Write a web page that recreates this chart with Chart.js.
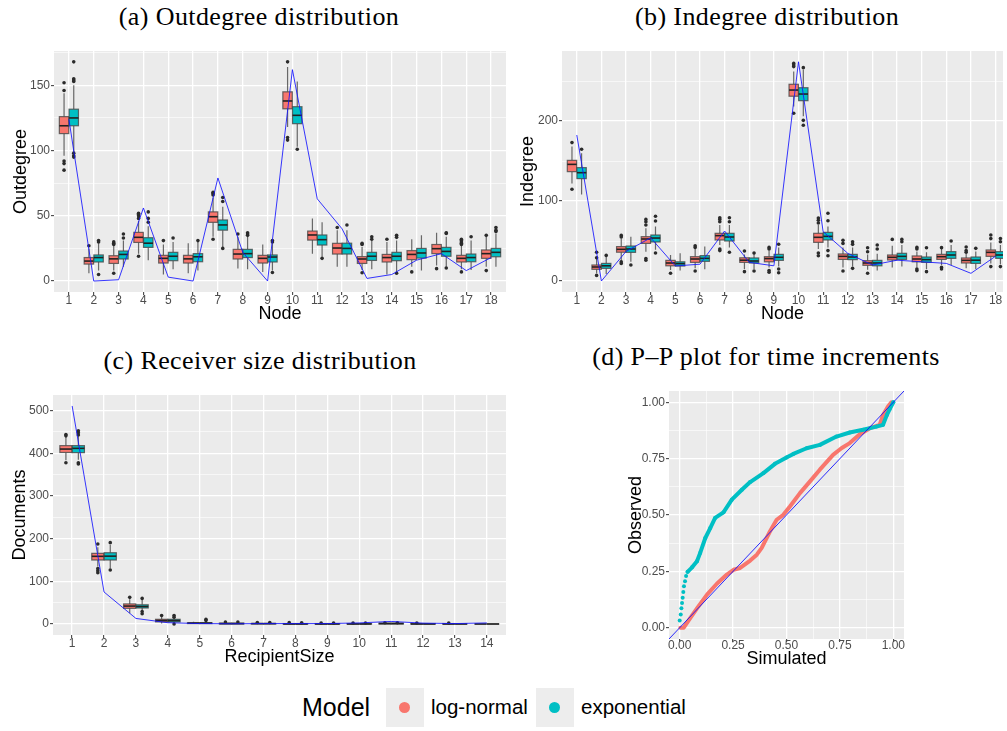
<!DOCTYPE html>
<html>
<head>
<meta charset="utf-8">
<script src="https://cdn.jsdelivr.net/npm/chart.js@4.4.1/dist/chart.umd.min.js"></script>
<style>
  body { margin: 0; width: 1007px; height: 731px; background: #fff; overflow: hidden; position: relative; font-family: 'Liberation Sans', Arial, sans-serif; }
  canvas { position: absolute; }
  .title { position: absolute; width: 460px; height: 30px; line-height: 30px; text-align: center; white-space: nowrap;
           font-family: 'Liberation Serif', 'DejaVu Serif', serif; font-size: 26px; letter-spacing: 0.4px; color: #000; }
  .legend-text { position: absolute; height: 30px; line-height: 30px; white-space: nowrap; color: #000; }
  .key { position: absolute; width: 38px; height: 39px; background: #EDEDED; }
  .key span { position: absolute; left: 13px; top: 14px; width: 11px; height: 11px; border-radius: 50%; }
</style>
</head>
<body>
<div class="title" style="left:29px; top:2px;">(a) Outdegree distribution</div>
<div class="title" style="left:537px; top:2px;">(b) Indegree distribution</div>
<div class="title" style="left:30px; top:346px;">(c) Receiver size distribution</div>
<div class="title" style="left:536px; top:342px;">(d) P–P plot for time increments</div>

<canvas id="outdeg" width="510" height="290" style="left:0; top:40px;"></canvas>
<canvas id="indeg" width="507" height="290" style="left:500px; top:40px;"></canvas>
<canvas id="receivers" width="510" height="290" style="left:0; top:380px;"></canvas>
<canvas id="pp" width="300" height="290" style="left:610px; top:380px;"></canvas>

<div class="legend-text" style="left:302px; top:692px; font-size:25px;">Model</div>
<div class="key" style="left:386px; top:688px;"><span style="background:#F8766D;"></span></div>
<div class="legend-text" style="left:431px; top:692px; font-size:20.5px;">log-normal</div>
<div class="key" style="left:536px; top:688px;"><span style="background:#00BFC4;"></span></div>
<div class="legend-text" style="left:581px; top:692px; font-size:20.5px;">exponential</div>

<script>
var nodes = [1, 2, 3, 4, 5, 6, 7, 8, 9, 10, 11, 12, 13, 14, 15, 16, 17, 18];
var recipientSizes = [1, 2, 3, 4, 5, 6, 7, 8, 9, 10, 11, 12, 13, 14];

// box stats per category: [lower whisker, Q1, median, Q3, upper whisker]
var outdegLogNormal = [
  [96, 113, 119, 126, 144], [6, 13, 15.3, 18, 25], [8, 13.5, 17, 19.4, 27], [21, 29.6, 33.5, 37.3, 46],
  [5, 13.8, 17.4, 19.7, 28], [6, 13.8, 17, 19.7, 29], [34, 45, 49.3, 53, 64], [9.7, 16.9, 20.7, 24.3, 34],
  [7, 13.8, 17.4, 19.7, 28], [118, 132, 138, 145, 164], [21, 31.4, 35.3, 38.3, 48], [11, 20.7, 25.3, 28.9, 39],
  [8.4, 13.5, 16.9, 18.7, 26], [5, 14.6, 18, 20.4, 30], [11, 16.4, 20.4, 23.3, 32], [12, 21, 24.8, 28, 37],
  [9, 14.6, 17.4, 19.7, 27], [11, 17.4, 21, 23.8, 34]
];
var outdegLogNormalOutliers = [
  [152, 146, 92, 90, 85], [27], [30, 29, 28, 6], [52, 51, 50, 48, 19], [31], [], [68, 67, 66, 32], [36], [],
  [168, 110, 108], [], [41], [29, 28, 6.4], [32], [7], [9.5], [32, 31, 30, 29, 28, 7], [35, 8]
];
var outdegExponential = [
  [99, 119, 125, 131.7, 150], [8, 14.6, 18, 20, 29], [11, 16.9, 20.4, 23, 31], [16, 25.8, 29, 33.2, 42],
  [9, 15.6, 19, 22, 30], [8, 14.8, 18.6, 21, 30], [26, 39, 43, 46.8, 57], [9, 18, 21, 24.3, 34],
  [8, 14.6, 18.4, 20, 29], [103, 120.6, 127, 133.6, 153], [18.7, 27.6, 31.7, 35.3, 45], [11, 20.7, 25, 29, 39],
  [9, 15.8, 19, 22, 31], [7, 15.6, 19, 22, 31], [8, 17.6, 21.5, 25, 35], [11, 19, 22.7, 25.8, 34],
  [8.4, 14.8, 18, 20.7, 31], [11, 18.6, 22, 25, 36.5]
];
var outdegExponentialOutliers = [
  [168, 155, 154, 153, 98, 96, 95], [31, 30, 5], [36, 33], [53, 48, 45], [33], [31], [64, 61, 25], [37, 36, 35],
  [31, 30, 6.6], [101], [17.4], [43], [34, 32], [35, 33.5, 6], [], [37, 36.5, 10], [34], [41, 39, 38]
];
var outdegObserved = [124, 0, 1, 56, 3, 0, 79, 22, 0, 162, 63, 40, 2, 5, 16, 21, 8, 18];
var outdegTicks = [0, 50, 100, 150];
var outdegMinor = [25, 75, 125, 175];

var indegLogNormal = [
  [122, 136.7, 145.8, 150.8, 168], [9.6, 14.6, 17.5, 20, 28], [25, 36, 39.6, 43, 53], [36.7, 47, 52.5, 55.4, 66],
  [13.7, 19, 22.5, 25.8, 32.5], [15.8, 23.3, 27.5, 30.4, 40], [45, 51.3, 56.7, 59.6, 70], [15, 23.3, 26, 29, 33],
  [17, 24, 28, 30.4, 38], [218, 231, 238.7, 245.9, 262], [40, 48.3, 54.6, 59.6, 70], [17, 27, 30.8, 33.8, 42],
  [14, 19.6, 22.5, 25.4, 33], [17, 26.3, 29.6, 32.5, 44], [17, 24, 27.5, 31.3, 37], [20, 27, 30.4, 33.3, 40],
  [16, 22.5, 25.8, 28.8, 34], [22, 30.8, 35.8, 38.8, 48]
];
var indegLogNormalOutliers = [
  [173, 114.6], [36, 29, 7], [57, 55, 24, 22], [77, 74, 70, 28, 26], [9.6], [44, 42, 12.5], [79, 77, 74, 40, 38],
  [37.5, 11.7], [42, 40, 13, 11], [272, 270, 268, 209.6], [78.7, 76, 72.5, 35, 31.6], [51, 47, 12.5],
  [41.6, 36.6, 9.6], [52], [42, 40, 15, 13], [41.7, 17, 15], [42.5, 38, 36], [57.5, 53, 18]
];
var indegExponential = [
  [108, 128, 135.4, 141.7, 159.6], [8.7, 15.8, 19, 22, 30], [24, 35.8, 40, 43.7, 55.4], [39, 48.8, 53.7, 57.5, 68],
  [13, 18.7, 21.7, 24, 34.6], [14.6, 24.6, 28.3, 31.7, 43], [42, 50, 55, 59.6, 70], [15, 22.5, 25, 28.8, 34],
  [18, 25.8, 29.6, 33.3, 42], [206, 225.4, 233.7, 241.6, 264], [42, 51.3, 55.8, 60.8, 68], [18, 26.7, 30, 33.3, 42],
  [13, 19, 22.5, 25.8, 34], [18, 27, 30.8, 34.6, 45], [15, 23.3, 26.7, 30, 36], [20, 28.3, 32.5, 36.7, 45],
  [15, 22, 26, 30, 37], [21, 28.3, 32.5, 36.7, 45]
];
var indegExponentialOutliers = [
  [164.6], [32], [20], [81, 75, 35], [], [], [79, 74, 36], [35, 12.5], [46, 15, 10.4], [266.7, 200.8, 194.6],
  [84.6, 75.4, 38, 31.6], [49, 45.8, 15.8], [45, 40], [52, 49], [41.6, 11.7], [50], [40.8], [53, 49, 18]
];
var indegObserved = [182.5, 0, 37, 54, 18.8, 21, 62.5, 23.3, 19, 274, 61.7, 34.6, 20, 26, 24, 22, 9.6, 31];
var indegTicks = [0, 100, 200];
var indegMinor = [50, 150, 250];

var receiversLogNormal = [
  [384, 402, 410, 418, 439], [135, 150, 158.6, 165.6, 180], [25, 36.7, 42, 47, 58], [1, 5, 8, 11, 17],
  [0, 1, 2, 3, 5], [0, 0, 1, 2, 3], [0, 0, 1, 1, 2], [0, 0, 0, 1, 2], [0, 0, 0, 1, 2], [0, 0, 0, 1, 2],
  [0, 0, 1, 2, 3], [0, 0, 0, 1, 2], [0, 0, 0, 1, 1], [0, 0, 0, 0, 0]
];
var receiversLogNormalOutliers = [
  [444, 441, 378], [187.5, 130, 125, 120], [62.5], [20], [], [4.5], [3.5], [3.5], [2.5], [2.5], [3], [2.5], [2.5], []
];
var receiversExponential = [
  [385, 401.6, 411.7, 418, 440], [130, 150, 159, 167, 185], [31, 37.5, 41, 45, 56], [2, 5, 8, 11, 14],
  [0, 1, 2, 3, 5], [0, 0, 1, 2, 3], [0, 0, 1, 1, 2], [0, 0, 0, 1, 2], [0, 0, 0, 1, 2], [0, 0, 0, 1, 2],
  [0, 0, 1, 2, 3], [0, 0, 0, 1, 2], [0, 0, 0, 0, 1], [0, 0, 0, 0, 0]
];
var receiversExponentialOutliers = [
  [453, 448, 443, 378, 375], [190.6, 126.6], [60, 29, 24], [20, 16, 0], [11, 8], [4.5], [3.5], [3], [2.5], [2.5],
  [3], [], [], []
];
var receiversObserved = [511, 75, 13, 3, 1, 0.5, 1, 1, 1, 2.5, 6, 2, 1, 2.5];
var receiversTicks = [0, 100, 200, 300, 400, 500];
var receiversMinor = [50, 150, 250, 350, 450];

// P-P plot: [simulated, observed]
var ppLogNormal = [
  [0.003, 0], [0.019, 0], [0.05, 0.044], [0.081, 0.086], [0.128, 0.147], [0.174, 0.195], [0.221, 0.236],
  [0.252, 0.257], [0.283, 0.265], [0.33, 0.298], [0.361, 0.324], [0.384, 0.354], [0.423, 0.428], [0.454, 0.479],
  [0.485, 0.501], [0.516, 0.538], [0.563, 0.597], [0.61, 0.649], [0.656, 0.701], [0.718, 0.767], [0.757, 0.796],
  [0.796, 0.819], [0.843, 0.858], [0.89, 0.885], [0.936, 0.9], [0.952, 0.944], [0.975, 0.981], [0.991, 1]
];
var ppExponential = [
  [0, 0.032], [0.005, 0.059], [0.008, 0.086], [0.011, 0.11], [0.014, 0.133], [0.017, 0.159], [0.02, 0.184],
  [0.025, 0.206], [0.03, 0.229], [0.037, 0.248], [0.058, 0.268], [0.081, 0.295], [0.096, 0.332], [0.12, 0.398],
  [0.143, 0.442], [0.166, 0.487], [0.205, 0.512], [0.244, 0.568], [0.291, 0.612], [0.33, 0.646], [0.392, 0.686],
  [0.446, 0.727], [0.5, 0.755], [0.532, 0.771], [0.594, 0.796], [0.656, 0.811], [0.734, 0.848], [0.796, 0.866],
  [0.858, 0.878], [0.921, 0.892], [0.952, 0.9], [0.97, 0.944], [0.983, 0.97], [1, 1]
];
var ppTicks = [0, 0.25, 0.5, 0.75, 1];
var ppMinor = [0.125, 0.375, 0.625, 0.875];

var LOGNORMAL = '#F8766D', EXPONENTIAL = '#00BFC4', OBSERVED = 'rgba(20,20,255,0.85)';
var DODGE = 0.195, HALF_BOX = 0.19;

Chart.defaults.font.family = "'Liberation Sans', Arial, sans-serif";
Chart.defaults.animation = false;

// grey panel behind the grid
var panelFill = {
  id: 'panelFill',
  beforeDraw: function (chart) {
    var a = chart.chartArea, ctx = chart.ctx;
    ctx.save();
    ctx.fillStyle = '#EBEBEB';
    ctx.fillRect(a.left, a.top, a.right - a.left, a.bottom - a.top);
    ctx.restore();
  }
};

// whiskers, boxes and medians, drawn under the datasets
function boxLayer(groups) {
  return {
    id: 'boxLayer',
    beforeDatasetsDraw: function (chart) {
      var ctx = chart.ctx, xs = chart.scales.x, ys = chart.scales.y, a = chart.chartArea;
      ctx.save();
      ctx.beginPath();
      ctx.rect(a.left, a.top, a.right - a.left, a.bottom - a.top);
      ctx.clip();
      groups.forEach(function (g) {
        g.stats.forEach(function (s, i) {
          var c = g.cats[i] + g.shift;
          var cx = xs.getPixelForValue(c);
          var x0 = xs.getPixelForValue(c - HALF_BOX), x1 = xs.getPixelForValue(c + HALF_BOX);
          var lo = ys.getPixelForValue(s[0]), q1 = ys.getPixelForValue(s[1]), md = ys.getPixelForValue(s[2]);
          var q3 = ys.getPixelForValue(s[3]), hi = ys.getPixelForValue(s[4]);
          ctx.strokeStyle = 'rgba(60,60,60,0.75)';
          ctx.lineWidth = 1.2;
          ctx.beginPath();
          ctx.moveTo(cx, hi); ctx.lineTo(cx, q3);
          ctx.moveTo(cx, q1); ctx.lineTo(cx, lo);
          ctx.stroke();
          ctx.fillStyle = g.color;
          ctx.fillRect(x0, q3, x1 - x0, q1 - q3);
          ctx.strokeStyle = 'rgba(70,70,70,0.8)';
          ctx.strokeRect(x0, q3, x1 - x0, q1 - q3);
          ctx.strokeStyle = '#222';
          ctx.lineWidth = 1.6;
          ctx.beginPath();
          ctx.moveTo(x0, md); ctx.lineTo(x1, md);
          ctx.stroke();
        });
      });
      ctx.restore();
    }
  };
}

function valueAxis(major, minor, fmt) {
  var all = major.concat(minor);
  return {
    afterBuildTicks: function (s) { s.ticks = all.map(function (v) { return { value: v }; }); },
    ticks: {
      color: '#4D4D4D', font: { size: 12, lineHeight: 1 }, autoSkip: false, maxRotation: 0,
      callback: function (v) { return major.indexOf(v) >= 0 ? fmt(v) : ''; }
    },
    grid: {
      color: '#FFFFFF', tickLength: 3, tickWidth: 1,
      lineWidth: function (c) { return c.tick && major.indexOf(c.tick.value) >= 0 ? 1.3 : 0.6; },
      tickColor: function (c) { return c.tick && major.indexOf(c.tick.value) >= 0 ? '#333333' : 'rgba(0,0,0,0)'; }
    },
    border: { display: false }
  };
}

function axisTitle(text, pad) {
  return { display: true, text: text, color: '#000', font: { size: 18 }, padding: pad };
}

function boxChart(id, d) {
  var outliers = [];
  [[d.lnOut, -DODGE], [d.exOut, DODGE]].forEach(function (p) {
    p[0].forEach(function (vals, i) {
      vals.forEach(function (v) { outliers.push({ x: d.cats[i] + p[1], y: v }); });
    });
  });
  var x = valueAxis(d.cats, [], String);
  x.type = 'linear'; x.min = d.xMin; x.max = d.xMax;
  x.ticks.padding = 0;
  x.title = axisTitle(d.xTitle, { bottom: d.xTitlePad });
  x.afterFit = function (s) { s.height = d.xHeight; };
  var y = valueAxis(d.yTicks, d.yMinor, String);
  y.type = 'linear'; y.min = d.yMin; y.max = d.yMax;
  y.ticks.padding = 1;
  y.title = axisTitle(d.yTitle, { top: d.yTitlePad });
  y.afterFit = function (s) { s.width = d.yWidth; };

  return new Chart(document.getElementById(id), {
    type: 'scatter',
    data: {
      datasets: [
        { type: 'line', data: d.cats.map(function (c, i) { return { x: c, y: d.observed[i] }; }),
          borderColor: OBSERVED, borderWidth: 1, pointRadius: 0, tension: 0, fill: false },
        { data: outliers, pointRadius: 1.8, pointBackgroundColor: '#2b2b2b', pointBorderWidth: 0 }
      ]
    },
    options: {
      responsive: false, events: [],
      layout: { padding: d.padding },
      plugins: { legend: { display: false }, tooltip: { enabled: false } },
      scales: { x: x, y: y }
    },
    plugins: [panelFill, boxLayer([
      { cats: d.cats, stats: d.ln, color: LOGNORMAL, shift: -DODGE },
      { cats: d.cats, stats: d.ex, color: EXPONENTIAL, shift: DODGE }
    ])]
  });
}

boxChart('outdeg', {
  cats: nodes, ln: outdegLogNormal, lnOut: outdegLogNormalOutliers, ex: outdegExponential, exOut: outdegExponentialOutliers,
  observed: outdegObserved, yTicks: outdegTicks, yMinor: outdegMinor,
  xMin: 0.4, xMax: 18.6, yMin: -8.4, yMax: 176.3,
  xTitle: 'Node', yTitle: 'Outdegree', xTitlePad: 5, yTitlePad: 10, xHeight: 38, yWidth: 54,
  padding: { top: 11, right: 4, left: 0, bottom: 0 }
});

boxChart('indeg', {
  cats: nodes, ln: indegLogNormal, lnOut: indegLogNormalOutliers, ex: indegExponential, exOut: indegExponentialOutliers,
  observed: indegObserved, yTicks: indegTicks, yMinor: indegMinor,
  xMin: 0.4, xMax: 18.3, yMin: -13.75, yMax: 287.5,
  xTitle: 'Node', yTitle: 'Indegree', xTitlePad: 5, yTitlePad: 17.5, xHeight: 38, yWidth: 62,
  padding: { top: 11, right: 0, left: 0, bottom: 0 }
});

boxChart('receivers', {
  cats: recipientSizes, ln: receiversLogNormal, lnOut: receiversLogNormalOutliers, ex: receiversExponential,
  exOut: receiversExponentialOutliers, observed: receiversObserved, yTicks: receiversTicks, yMinor: receiversMinor,
  xMin: 0.4, xMax: 14.6, yMin: -25.8, yMax: 536.7,
  xTitle: 'RecipientSize', yTitle: 'Documents', xTitlePad: 2, yTitlePad: 9.5, xHeight: 35, yWidth: 53,
  padding: { top: 15, right: 4, left: 0, bottom: 0 }
});

(function () {
  var fmt = function (v) { return v.toFixed(2); };
  var x = valueAxis(ppTicks, ppMinor, fmt);
  x.type = 'linear'; x.min = -0.05; x.max = 1.05;
  x.ticks.padding = -2;
  x.title = axisTitle('Simulated', { bottom: 0 });
  x.afterFit = function (s) { s.height = 31; };
  var y = valueAxis(ppTicks, ppMinor, fmt);
  y.type = 'linear'; y.min = -0.05; y.max = 1.05;
  y.ticks.padding = 1;
  y.title = axisTitle('Observed', { top: 15.7 });
  y.afterFit = function (s) { s.width = 59; };
  var toXY = function (p) { return { x: p[0], y: p[1] }; };

  new Chart(document.getElementById('pp'), {
    type: 'scatter',
    data: {
      datasets: [
        { type: 'line', data: [{ x: -0.1, y: -0.1 }, { x: 1.1, y: 1.1 }], borderColor: 'rgba(20,20,255,0.9)',
          borderWidth: 1, pointRadius: 0, tension: 0 },
        { type: 'line', data: ppExponential.map(toXY), borderColor: EXPONENTIAL, borderWidth: 4,
          borderCapStyle: 'round', borderJoinStyle: 'round', tension: 0,
          pointRadius: 2, pointBackgroundColor: EXPONENTIAL, pointBorderWidth: 0,
          segment: { borderColor: function (c) { return c.p1DataIndex <= 9 ? 'rgba(0,0,0,0)' : undefined; } } },
        { type: 'line', data: ppLogNormal.map(toXY), borderColor: LOGNORMAL, borderWidth: 4,
          borderCapStyle: 'round', borderJoinStyle: 'round', tension: 0, pointRadius: 0 }
      ]
    },
    options: {
      responsive: false, events: [],
      layout: { padding: { top: 11, right: 6, left: 0, bottom: 0 } },
      plugins: { legend: { display: false }, tooltip: { enabled: false } },
      scales: { x: x, y: y }
    },
    plugins: [panelFill]
  });
})();
</script>
</body>
</html>
